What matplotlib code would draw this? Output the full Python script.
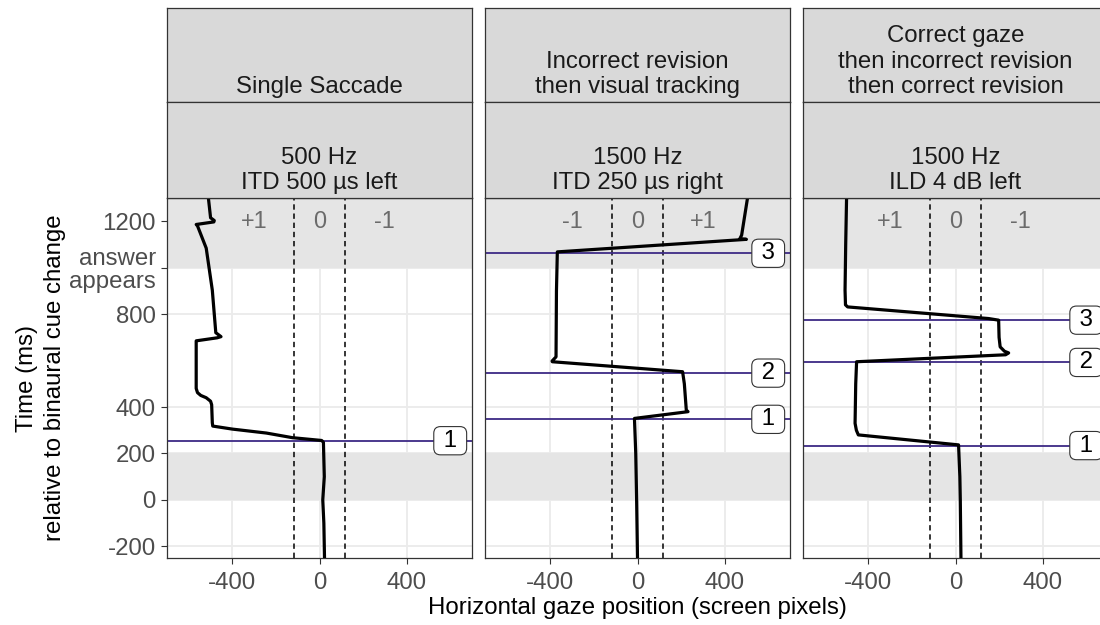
import matplotlib.pyplot as plt

plt.rcParams['font.family'] = ['Liberation Sans', 'DejaVu Sans']

# facet strip texts
strip_top = ["Single Saccade",
             "Incorrect revision\nthen visual tracking",
             "Correct gaze\nthen incorrect revision\nthen correct revision"]
strip_bottom = ["500 Hz\nITD 500 µs left",
                "1500 Hz\nITD 250 µs right",
                "1500 Hz\nILD 4 dB left"]

# response zone labels (left, centre, right)
zone_labels = [["+1", "0", "-1"], ["-1", "0", "+1"], ["+1", "0", "-1"]]
zone_x = [-300, 0, 300]
zone_edges = [-115, 115]

# gaze traces: time (ms) and horizontal position (px)
trace1_t = [1300, 1215, 1203, 1197, 1186, 1180, 1084, 903, 720, 703, 698, 685,
            480, 462, 450, 440, 425, 410, 332, 318, 305, 288, 268, 256, 248,
            100, 0, -100, -250]
trace1_x = [-510, -500, -483, -485, -566, -560, -520, -492, -476, -452, -470, -566,
            -566, -560, -545, -520, -500, -495, -492, -490, -400, -244, -124, 10, 18,
            22, 15, 20, 23]
trace2_t = [1300, 1140, 1125, 1122, 1068, 900, 616, 598, 595, 552, 500, 387, 380,
            351, 200, 0, -250]
trace2_x = [505, 478, 470, 500, -368, -372, -374, -392, -391, 207, 215, 224, 232,
            -14, -8, -4, 0]
trace3_t = [1300, 1100, 903, 840, 831, 781, 774, 700, 659, 640, 633, 625, 595,
            500, 330, 300, 280, 237, 100, 0, -250]
trace3_x = [-500, -504, -507, -505, -495, 152, 198, 200, 205, 225, 244, 230, -454,
            -458, -461, -455, -446, 14, 20, 22, 25]
traces = [(trace1_t, trace1_x), (trace2_t, trace2_x), (trace3_t, trace3_x)]

# saccade event times with their numbers
events = [[255], [347, 546, 1062], [234, 592, 774]]

y_ticks = [-200, 0, 200, 400, 800, 1000, 1200]
y_ticklabels = ['-200', '0', '200', '400', '800', 'answer\nappears', '1200']
x_ticks = [-400, 0, 400]
x_ticklabels = ['-400', '0', '400']
shade_bands = [(0, 200), (1000, 1300)]

W, H = 1100, 625
fig = plt.figure(figsize=(W / 100, H / 100), dpi=100)


def rect(x0, y0, x1, y1):
    return [x0 / W, 1 - y1 / H, (x1 - x0) / W, (y1 - y0) / H]


FS = 17.3
lefts = [167, 485, 803]
pw = 305
edge = '#333333'

for i, left in enumerate(lefts):
    ax = fig.add_axes(rect(left, 198, left + pw, 558))
    ax.set_xlim(-700, 700)
    ax.set_ylim(-250, 1300)
    ax.set_axisbelow(True)
    ax.grid(True, color='#EBEBEB', lw=1.3)
    for lo, hi in shade_bands:
        ax.axhspan(lo, hi, color='#E5E5E5', lw=0, zorder=1)
    for xe in zone_edges:
        ax.axvline(xe, color='black', lw=1.1, ls=(0, (3.5, 2.5)), zorder=2)
    for lab, xz in zip(zone_labels[i], zone_x):
        ax.text(xz, 1200, lab, fontsize=FS - 0.5, color='#6B6B6B',
                ha='center', va='center', zorder=2)
    for n, te in enumerate(events[i], start=1):
        ax.axhline(te, color='#3D2A85', lw=1.3, zorder=2)
        ax.text(600, te, f" {n} ", fontsize=FS, ha='center', va='center', zorder=5,
                bbox=dict(boxstyle='round,pad=0.13,rounding_size=0.28',
                          fc='white', ec=edge, lw=0.8))
    tt, tx = traces[i]
    ax.plot(tx, tt, color='black', lw=2.3, solid_joinstyle='round', zorder=3)

    for s in ax.spines.values():
        s.set_color(edge)
        s.set_linewidth(0.9)
    ax.set_xticks(x_ticks)
    ax.set_xticklabels(x_ticklabels)
    ax.set_yticks(y_ticks)
    if i == 0:
        ax.set_yticklabels(y_ticklabels, linespacing=1.05)
    else:
        ax.tick_params(axis='y', left=False, labelleft=False)
    ax.tick_params(colors=edge, labelcolor='#4D4D4D', labelsize=FS,
                   length=4, width=0.8, pad=4)
    ax.tick_params(axis='x', pad=6)

    # facet strips
    for (y0, y1, txt) in [(8, 102, strip_top[i]), (102, 198, strip_bottom[i])]:
        sa = fig.add_axes(rect(left, y0, left + pw, y1))
        sa.set_facecolor('#D9D9D9')
        sa.set_xticks([])
        sa.set_yticks([])
        for s in sa.spines.values():
            s.set_color(edge)
            s.set_linewidth(0.9)
        sa.text(0.5, 9 / (y1 - y0), txt, transform=sa.transAxes, fontsize=FS,
                color='#1A1A1A', ha='center', va='baseline', multialignment='center')

fig.text(637 / W, 1 - 608 / H, "Horizontal gaze position (screen pixels)",
         fontsize=FS, ha='center', va='center')
fig.text(41 / W, 1 - 378 / H, "Time (ms)\nrelative to binaural cue change",
         fontsize=FS, ha='center', va='center', rotation=90, multialignment='center',
         linespacing=1.3)

fig.savefig('out.png', dpi=100)
